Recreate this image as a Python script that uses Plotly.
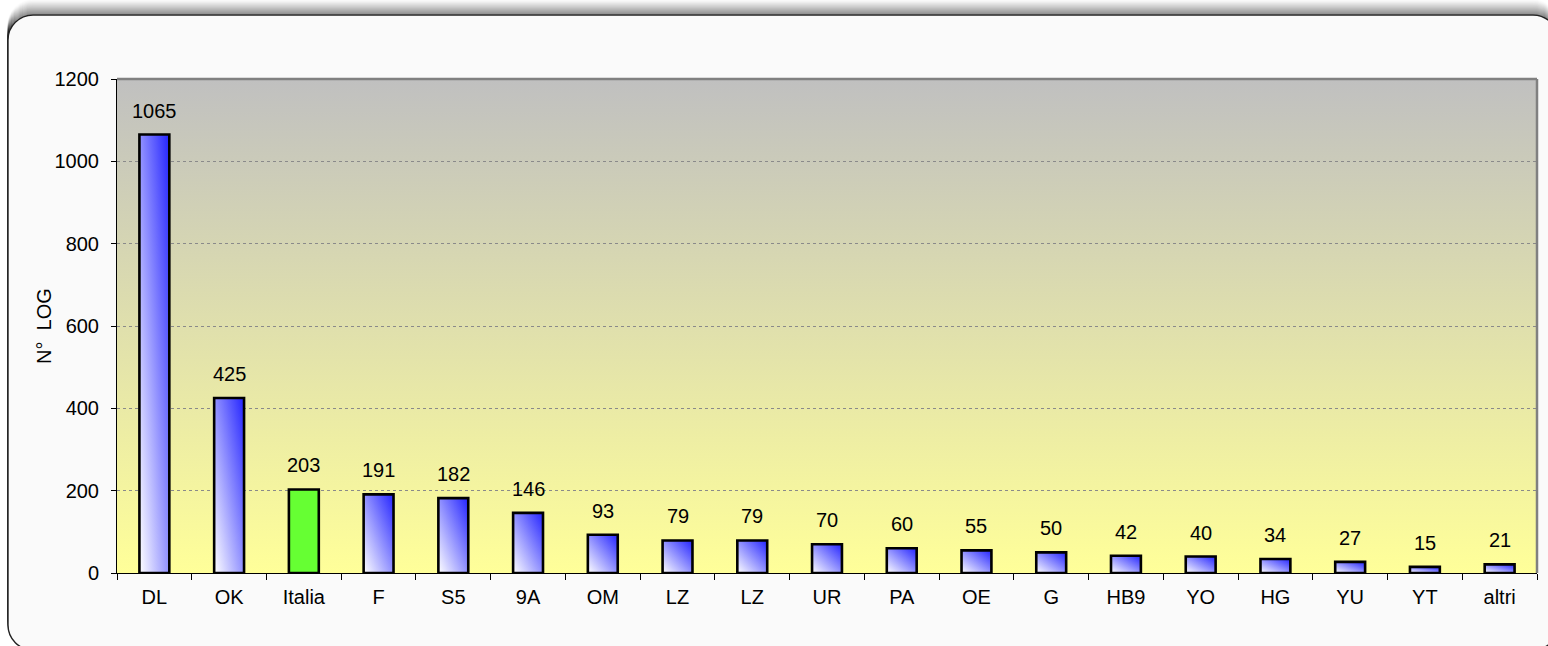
import base64
import plotly.graph_objects as go

# ---- data ----
categories = ["DL", "OK", "Italia", "F", "S5", "9A", "OM", "LZ", "LZ", "UR",
              "PA", "OE", "G", "HB9", "YO", "HG", "YU", "YT", "altri"]
values = [1065, 425, 203, 191, 182, 146, 93, 79, 79, 70,
          60, 55, 50, 42, 40, 34, 27, 15, 21]
highlight = "Italia"
y_ticks = [0, 200, 400, 600, 800, 1000, 1200]
y_title = "N°\u00a0 LOG"

# ---- geometry / style ----
W, H = 1548, 646
ML, MR, MT, MB = 117, 11, 79, 73
PW, PH = W - ML - MR, H - MT - MB
FONT = "Liberation Sans, Arial, sans-serif"
BAR_W = 0.40
BLUE = "#2424ff"
GREEN = "#66ff33"


def px(x):
    return (x - ML) / PW


def py(y):
    return (H - MB - y) / PH


def rrect_path(x0, y0, x1, y1, r):
    k = 0.5523 * r

    def P(x, y):
        return f"{px(x):.5f},{py(y):.5f}"
    s = (f"M {P(x0, y0 + r)} "
         f"C {P(x0, y0 + r - k)} {P(x0 + r - k, y0)} {P(x0 + r, y0)} "
         f"L {P(x1 - r, y0)} "
         f"C {P(x1 - r + k, y0)} {P(x1, y0 + r - k)} {P(x1, y0 + r)} "
         f"L {P(x1, y1 - r)} "
         f"C {P(x1, y1 - r + k)} {P(x1 - r + k, y1)} {P(x1 - r, y1)} "
         f"L {P(x0 + r, y1)} "
         f"C {P(x0 + r - k, y1)} {P(x0, y1 - r + k)} {P(x0, y1 - r)} Z")
    return s


fig = go.Figure()

# bars: horizontal gradient base + vertical translucent overlay => diagonal gradient
ox, oy = [], []
for i, (c, v) in enumerate(zip(categories, values)):
    xs = [i - BAR_W / 2, i - BAR_W / 2, i + BAR_W / 2, i + BAR_W / 2, i - BAR_W / 2]
    ys = [0, v, v, 0, 0]
    if c == highlight:
        fig.add_trace(go.Scatter(x=xs, y=ys, mode="lines", fill="toself",
                                 fillcolor=GREEN, line=dict(width=0),
                                 hoverinfo="skip", showlegend=False))
    else:
        fig.add_trace(go.Scatter(
            x=xs, y=ys, mode="lines", fill="toself", line=dict(width=0),
            fillgradient=dict(type="horizontal",
                              colorscale=[[0, "#ffffff"], [1, BLUE]]),
            hoverinfo="skip", showlegend=False))
        fig.add_trace(go.Scatter(
            x=xs, y=ys, mode="lines", fill="toself", line=dict(width=0),
            fillgradient=dict(type="vertical",
                              colorscale=[[0, "rgba(255,255,255,0.5)"],
                                          [1, "rgba(36,36,255,0.5)"]]),
            hoverinfo="skip", showlegend=False))
    ox += xs + [None]
    oy += ys + [None]

fig.add_trace(go.Scatter(x=ox, y=oy, mode="lines",
                         line=dict(color="black", width=2.6),
                         hoverinfo="skip", showlegend=False))

# value labels
annotations = []
for i, v in enumerate(values):
    annotations.append(dict(x=i, y=v, xref="x", yref="y", text=str(v),
                            showarrow=False, yanchor="bottom", yshift=11,
                            font=dict(family=FONT, size=20, color="black")))
annotations.append(dict(x=px(44), y=0.5, xref="paper", yref="paper",
                        text=y_title, textangle=-90, showarrow=False,
                        xanchor="center", yanchor="middle",
                        font=dict(family=FONT, size=20, color="black")))

# shapes: shadow + frame + plot border
shapes = []
for k in range(15, 0, -1):
    a = 0.36 * (1 - k / 16) ** 1.3
    shapes.append(dict(type="path", xref="paper", yref="paper", layer="below",
                       path=rrect_path(8, 15 - k, 1558, 650 - k, 25),
                       line=dict(color=f"rgba(0,0,0,{a:.3f})", width=1.3)))
shapes.append(dict(type="path", xref="paper", yref="paper", layer="below",
                   path=rrect_path(8, 15, 1558, 650, 25),
                   fillcolor="#fafafa", line=dict(color="#222222", width=1.4)))
shapes.append(dict(type="line", xref="paper", yref="paper", layer="above",
                   x0=0, x1=1, y0=1, y1=1, line=dict(color="#808080", width=2.5)))
shapes.append(dict(type="line", xref="paper", yref="paper", layer="above",
                   x0=1, x1=1, y0=0, y1=1, line=dict(color="#808080", width=2.5)))

# plot-area gradient background
svg = ('<svg xmlns="http://www.w3.org/2000/svg" width="100" height="100" '
       'viewBox="0 0 100 100" preserveAspectRatio="none"><defs>'
       '<linearGradient id="g" x1="0" y1="0" x2="0" y2="1">'
       '<stop offset="0" stop-color="#c0c0c0"/>'
       '<stop offset="1" stop-color="#ffff99"/></linearGradient></defs>'
       '<rect x="0" y="0" width="100" height="100" fill="url(#g)"/></svg>')
src = "data:image/svg+xml;base64," + base64.b64encode(svg.encode()).decode()

n = len(categories)
fig.update_layout(
    width=W, height=H,
    margin=dict(l=ML, r=MR, t=MT, b=MB),
    paper_bgcolor="white",
    plot_bgcolor="rgba(0,0,0,0)",
    font=dict(family=FONT, size=20, color="black"),
    shapes=shapes,
    annotations=annotations,
    images=[dict(source=src, xref="x", yref="y", x=-0.5, y=y_ticks[-1],
                 sizex=n, sizey=y_ticks[-1], xanchor="left", yanchor="top",
                 sizing="stretch", layer="below")],
    xaxis=dict(range=[-0.5, n - 0.5], tickmode="array",
               tickvals=list(range(n)), ticktext=categories,
               ticks="", showgrid=False, zeroline=False,
               showline=True, linecolor="black", linewidth=1,
               tickfont=dict(family=FONT, size=20, color="black"),
               ticklabelstandoff=6,
               minor=dict(tickmode="array",
                          tickvals=[i - 0.5 for i in range(n + 1)],
                          ticks="outside", ticklen=6, tickcolor="black",
                          tickwidth=1, showgrid=False)),
    yaxis=dict(range=[0, y_ticks[-1]], tickmode="array", tickvals=y_ticks,
               ticks="outside", ticklen=5, tickcolor="black", tickwidth=1,
               showline=True, linecolor="black", linewidth=1,
               showgrid=True, gridcolor="#8a8a8a", gridwidth=0.8,
               griddash="dot", zeroline=False,
               tickfont=dict(family=FONT, size=20, color="black"),
               ticklabelstandoff=8),
)

fig.write_html("out.html",
               config={"displayModeBar": False},
               post_script="document.body.style.margin='0';"
                           "document.body.style.overflow='hidden';")
